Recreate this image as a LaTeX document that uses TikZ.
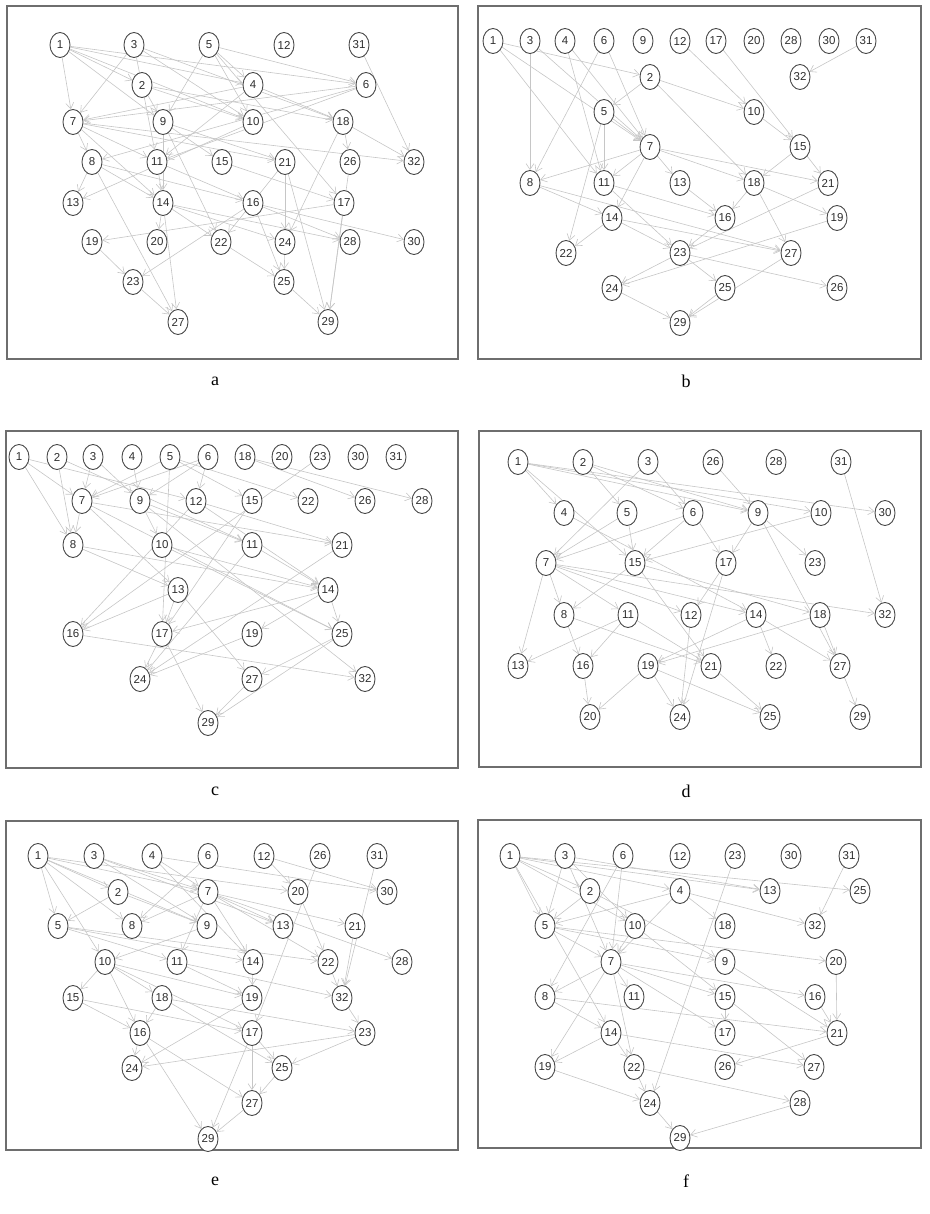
\documentclass[tikz,border=0pt]{standalone}
\usepackage{fontspec}
\setmainfont{Liberation Serif}
\newfontfamily\vtxfont{Liberation Sans}
\usetikzlibrary{shapes.geometric,arrows.meta,backgrounds}
\definecolor{edgegray}{HTML}{C6C6C6}
\definecolor{rimgray}{HTML}{4A4A4A}
\definecolor{framegray}{HTML}{6E6E6E}
\definecolor{numgray}{HTML}{2E2E2E}

\begin{document}
\begin{tikzpicture}[x=1pt, y=-1pt,
  vtx/.style={ellipse, draw=rimgray, line width=0.9pt, fill=white, inner sep=0pt,
    minimum width=20pt, minimum height=25pt, text=numgray, font=\vtxfont\fontsize{11.5}{12}\selectfont},
  arc/.style={draw=edgegray, line width=0.6pt, -{Straight Barb[length=6pt,width=8pt]}},
  frame/.style={draw=framegray, line width=1.1pt},
  panellabel/.style={font=\fontsize{18}{20}\selectfont}]

\useasboundingbox (0,0) rectangle (929,1214);

% Panel frames
\draw[frame] (7,6) rectangle (458,359);
\draw[frame] (478,6) rectangle (921,359);
\draw[frame] (6,431) rectangle (458,768);
\draw[frame] (479,431) rectangle (921,767);
\draw[frame] (6,821) rectangle (458,1150);
\draw[frame] (478,820) rectangle (921,1148);

% Panel letters
\node[panellabel] (labA) at (215,381) {a};
\node[panellabel] (labB) at (686,381) {b};
\node[panellabel] (labC) at (215,791) {c};
\node[panellabel] (labD) at (686,791) {d};
\node[panellabel] (labE) at (215,1181) {e};
\node[panellabel] (labF) at (686,1181) {f};

% Panel a
\foreach \n/\px/\py in {1/60/45,3/134/45,5/209/45,12/284/45,31/359/45,
  2/142/85,4/253/85,6/366/85,
  7/73/122,9/163/122,10/253/122,18/343/122,
  8/92/162,11/157/162,15/222/162,21/285/162,26/350/162,32/414/162,
  13/73/203,14/163/203,16/253/203,17/344/203,
  19/92/242,20/157/242,22/221/242,24/285/242,28/350/242,30/414/242,
  23/133/282,25/284/282,27/178/322,29/328/322}
  \node[vtx] (a\n) at (\px,\py) {\n};
\begin{scope}[on background layer]
\foreach \s/\t in {1/2,1/4,1/6,1/7,1/9,1/10,3/7,3/11,3/10,3/18,5/9,5/4,5/6,5/10,5/17,
  2/9,2/10,2/18,4/7,4/11,4/18,6/7,6/8,6/11,31/32,7/8,7/14,7/11,7/21,7/32,
  9/15,9/21,9/14,9/22,10/13,18/32,18/26,18/24,8/13,8/14,8/16,8/27,11/14,11/16,
  15/17,21/24,21/29,21/22,26/29,14/20,14/22,14/24,14/27,14/28,16/25,16/28,16/30,
  17/19,17/29,19/23,22/25,23/27,24/25,25/29,16/23}
  \draw[arc] (a\s) -- (a\t);
\end{scope}

% Panel b
\foreach \n/\px/\py in {1/493/41,3/530/41,4/565/41,6/604/41,9/643/41,12/680/41,17/716/41,
  20/754/41,28/791/41,30/829/41,31/866/41,
  2/650/77,32/800/77,5/604/112,10/754/112,7/650/147,15/800/147,
  8/530/183,11/604/183,13/680/183,18/754/183,21/828/183,
  14/612/218,16/725/218,19/837/218,22/566/253,23/680/253,27/791/253,
  24/612/288,25/725/288,26/837/288,29/680/323}
  \node[vtx] (b\n) at (\px,\py) {\n};
\begin{scope}[on background layer]
\foreach \s/\t in {1/2,1/7,1/11,3/8,3/7,4/7,4/11,6/8,6/7,12/10,17/15,31/32,
  2/5,2/10,2/18,5/7,5/11,5/22,10/15,7/8,7/11,7/13,7/18,7/21,7/14,15/18,15/21,
  8/14,8/27,11/16,11/23,13/16,18/16,18/19,18/27,21/23,14/22,14/23,14/27,16/23,
  19/24,23/24,23/25,23/26,27/29,25/29,24/29}
  \draw[arc] (b\s) -- (b\t);
\end{scope}

% Panel c
\foreach \n/\px/\py in {1/19/457,2/57/457,3/93/457,4/132/457,5/170/457,6/208/457,
  18/245/457,20/282/457,23/320/457,30/358/457,31/396/457,
  7/82/501,9/140/501,12/196/501,15/252/501,22/308/501,26/365/501,28/422/501,
  8/73/545,10/162/545,11/252/545,21/342/545,13/178/590,14/328/590,
  16/73/634,17/162/634,19/252/634,25/342/634,24/140/679,27/252/679,32/365/679,
  29/208/723}
  \node[vtx] (c\n) at (\px,\py) {\n};
\begin{scope}[on background layer]
\foreach \s/\t in {1/8,1/12,1/7,2/8,2/11,3/7,3/9,4/9,5/7,5/15,5/17,5/22,6/12,6/9,6/7,
  18/26,18/28,23/16,7/8,7/13,7/21,7/25,9/10,9/11,9/32,12/21,12/14,12/16,15/17,
  10/14,10/25,8/13,8/14,11/14,11/24,21/24,13/17,13/16,13/27,14/17,14/19,14/25,
  16/32,17/24,17/29,19/24,25/27,25/29,27/29}
  \draw[arc] (c\s) -- (c\t);
\end{scope}

% Panel d
\foreach \n/\px/\py in {1/518/462,2/583/462,3/648/462,26/713/462,28/776/462,31/841/462,
  4/564/513,5/627/513,6/693/513,9/758/513,10/821/513,30/885/513,
  7/546/563,15/635/563,17/726/563,23/815/563,
  8/564/615,11/628/615,12/691/615,14/756/615,18/820/615,32/885/615,
  13/518/666,16/583/666,19/648/666,21/711/666,22/776/666,27/840/666,
  20/590/717,24/680/717,25/770/717,29/860/717}
  \node[vtx] (d\n) at (\px,\py) {\n};
\begin{scope}[on background layer]
\foreach \s/\t in {1/4,1/9,1/10,1/30,1/15,2/5,2/9,2/6,3/6,3/7,26/9,31/32,4/14,
  5/7,5/15,6/7,6/17,6/15,9/17,9/23,9/27,10/15,7/8,7/11,7/12,7/13,7/14,7/32,
  15/8,15/18,15/21,17/12,17/24,8/16,8/21,11/13,11/16,11/21,12/24,14/19,14/22,14/27,
  18/19,18/27,16/20,19/20,19/24,19/25,21/25,27/29}
  \draw[arc] (d\s) -- (d\t);
\end{scope}

% Panel e
\foreach \n/\px/\py in {1/38/856,3/94/856,4/152/856,6/208/856,12/264/856,26/320/856,31/377/856,
  2/118/892,7/208/892,20/298/892,30/387/892,
  5/58/926,8/132/926,9/207/926,13/283/926,21/355/926,
  10/105/962,11/177/962,14/253/962,22/328/962,28/402/962,
  15/73/998,18/162/998,19/252/998,32/342/998,
  16/140/1033,17/252/1033,23/365/1033,24/132/1068,25/282/1068,
  27/252/1103,29/208/1139}
  \node[vtx] (e\n) at (\px,\py) {\n};
\begin{scope}[on background layer]
\foreach \s/\t in {1/2,1/5,1/7,1/8,1/9,1/20,1/10,3/7,3/9,3/13,4/7,4/30,4/14,6/8,
  12/20,12/30,26/17,31/32,2/5,2/9,7/8,7/13,7/14,7/21,7/22,7/28,7/11,20/22,
  5/11,5/14,5/22,9/10,10/15,10/16,10/18,10/19,10/17,11/19,11/32,14/19,22/32,21/32,
  32/23,18/16,18/23,18/25,15/16,15/17,19/24,16/24,16/27,16/29,17/27,17/29,17/25,
  23/24,23/25,25/27,27/29}
  \draw[arc] (e\s) -- (e\t);
\end{scope}

% Panel f
\foreach \n/\px/\py in {1/510/856,3/565/856,6/623/856,12/680/856,23/735/856,30/791/856,31/849/856,
  2/590/891,4/680/891,13/770/891,25/860/891,
  5/545/926,10/635/926,18/725/926,32/815/926,
  7/611/962,9/725/962,20/836/962,
  8/545/997,11/634/997,15/725/997,16/815/997,
  14/611/1033,17/725/1033,21/837/1033,
  19/545/1067,22/634/1067,26/725/1067,27/814/1067,
  24/650/1103,28/800/1103,29/680/1138}
  \node[vtx] (f\n) at (\px,\py) {\n};
\begin{scope}[on background layer]
\foreach \s/\t in {1/2,1/4,1/5,1/10,1/13,1/25,1/14,3/5,3/13,3/10,3/7,6/7,6/8,23/24,31/32,
  2/5,2/9,4/5,4/18,4/32,4/7,5/7,5/9,5/20,10/7,10/15,7/8,7/11,7/15,7/16,7/17,7/19,7/22,
  9/21,20/21,8/14,8/21,15/17,15/27,16/21,14/19,14/22,14/27,21/26,19/24,22/24,22/28,
  24/29,28/29}
  \draw[arc] (f\s) -- (f\t);
\end{scope}

\end{tikzpicture}
\end{document}
